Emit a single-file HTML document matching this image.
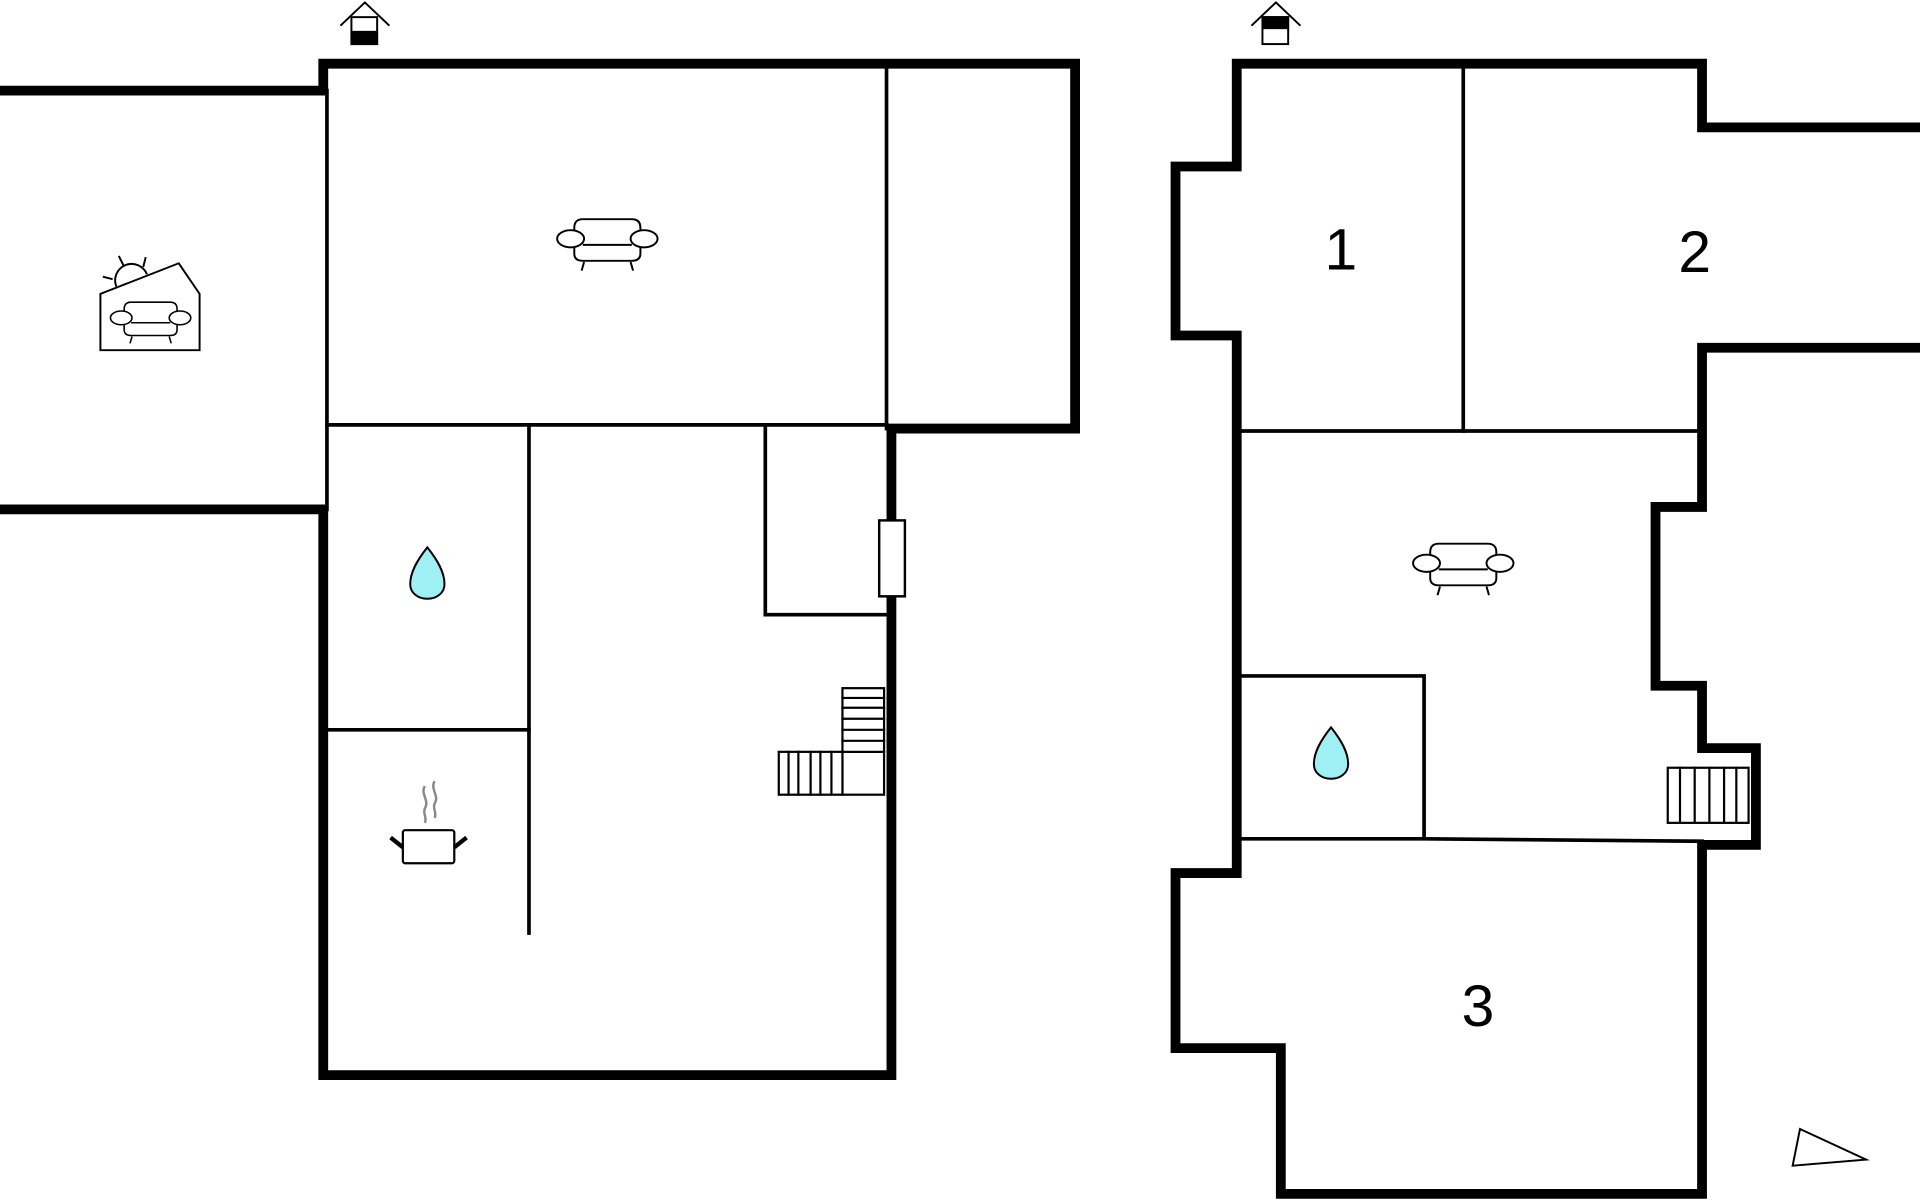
<!DOCTYPE html>
<html><head><meta charset="utf-8"><style>
html,body{margin:0;padding:0;background:#fff;width:1920px;height:1200px;overflow:hidden}
svg{display:block}
</style></head><body>
<svg width="1920" height="1200" viewBox="0 0 1568 980" xmlns="http://www.w3.org/2000/svg">
<defs>
<g id="sofa" fill="#fff" stroke="#000" stroke-width="1.6">
<path d="M-27,-4 L-27,-12 Q-27,-19 -20,-19 L20,-19 Q27,-19 27,-12 L27,-4"/>
<path d="M-27,2 L-27,9 Q-27,15 -20,15 L20,15 Q27,15 27,9 L27,2"/>
<line x1="-20" y1="2" x2="20" y2="2"/>
<ellipse cx="-30" cy="-3" rx="11" ry="7"/>
<ellipse cx="30" cy="-3" rx="11" ry="7"/>
<line x1="-19" y1="16" x2="-21" y2="23"/><line x1="19" y1="16" x2="21" y2="23"/>
</g>
<g id="drop"><path d="M0,-26 C8,-16 14,-6 14,4 C14,11 8,16 0,16 C-8,16 -14,11 -14,4 C-14,-6 -8,-16 0,-26 Z" fill="#9ff0f5" stroke="#000" stroke-width="1.6"/></g>
</defs>
<g fill="none" stroke="#000" stroke-linecap="square">
<path d="M0,74 L264,74 L264,52 L878,52 L878,350 L728,350 L728,878 L264,878 L264,416 L0,416" stroke-width="8"/>
<line x1="267" y1="74" x2="267" y2="416" stroke-width="3"/>
<line x1="724" y1="56" x2="724" y2="350" stroke-width="3"/>
<line x1="267" y1="347" x2="724" y2="347" stroke-width="3"/>
<line x1="432" y1="347" x2="432" y2="762" stroke-width="3"/>
<line x1="267" y1="596" x2="432" y2="596" stroke-width="3"/>
<path d="M625,347 L625,502 L724,502" stroke-width="3"/>
<rect x="718" y="425" width="21" height="62" fill="#fff" stroke-width="2"/>
<g stroke-width="1.8">
<rect x="688" y="562" width="34" height="87" fill="#fff"/>
<line x1="688" y1="570" x2="722" y2="570"/><line x1="688" y1="578" x2="722" y2="578"/>
<line x1="688" y1="587" x2="722" y2="587"/><line x1="688" y1="596" x2="722" y2="596"/>
<line x1="688" y1="605" x2="722" y2="605"/><line x1="688" y1="614" x2="722" y2="614"/>
<rect x="636" y="614" width="52" height="35" fill="#fff"/>
<line x1="644" y1="614" x2="644" y2="649"/><line x1="652" y1="614" x2="652" y2="649"/>
<line x1="662" y1="614" x2="662" y2="649"/><line x1="670" y1="614" x2="670" y2="649"/>
<line x1="679" y1="614" x2="679" y2="649"/>
</g>
<path d="M1568,284 L1390,284 L1390,414 L1352,414 L1352,560 L1390,560 L1390,611 L1434,611 L1434,690 L1390,690 L1390,975 L1046,975 L1046,856 L960,856 L960,713 L1010,713 L1010,274 L960,274 L960,136 L1010,136 L1010,52 L1390,52 L1390,104 L1568,104" stroke-width="8" stroke-linejoin="miter"/>
<line x1="1195" y1="56" x2="1195" y2="352" stroke-width="3"/>
<line x1="1014" y1="352" x2="1386" y2="352" stroke-width="3"/>
<path d="M1014,552 L1163,552 L1163,684" stroke-width="3"/>
<path d="M1014,685 L1163,685 L1390,687" stroke-width="3"/>
<g stroke-width="1.8">
<rect x="1362" y="627" width="66" height="45" fill="#fff"/>
<line x1="1372" y1="627" x2="1372" y2="672"/><line x1="1384" y1="627" x2="1384" y2="672"/>
<line x1="1396" y1="627" x2="1396" y2="672"/><line x1="1408" y1="627" x2="1408" y2="672"/>
<line x1="1418" y1="627" x2="1418" y2="672"/>
</g>
<path d="M1470,922 L1524,947 L1464,952 Z" stroke-width="1.6"/>
</g>
<g stroke="#000" stroke-width="1.6" fill="none">
<path d="M278,21 L298,2 L318,21"/>
<rect x="287" y="14" width="21" height="22" fill="#fff"/>
<rect x="287" y="26" width="21" height="10" fill="#000"/>
<path d="M1022,21 L1042,2 L1062,21"/>
<rect x="1031" y="14" width="21" height="22" fill="#fff"/>
<rect x="1031" y="14" width="21" height="9" fill="#000"/>
</g>
<g stroke="#000" stroke-width="1.6" fill="none">
<path d="M95,234 A13,13 0 0 1 120,224"/>
<line x1="97" y1="209" x2="101" y2="217"/><line x1="119" y1="210" x2="117" y2="218"/>
<line x1="84" y1="226" x2="92" y2="228"/>
<path d="M82,286 L82,240 L146,215 L163,240 L163,286 Z" fill="#fff"/>
</g>
<use href="#sofa" x="123" y="262" transform="translate(123 262) scale(0.8) translate(-123 -262)"/>
<use href="#sofa" x="496" y="198"/>
<use href="#sofa" x="1195" y="463"/>
<use href="#drop" x="349" y="473"/>
<use href="#drop" x="1087" y="620"/>
<g stroke="#888" stroke-width="2" fill="none">
<path d="M347,642 C343,648 351,654 347,660 C345,664 349,668 347,672"/>
<path d="M355,638 C351,644 359,650 355,656 C353,660 357,664 355,668"/>
</g>
<g stroke="#000" stroke-width="1.8" fill="#fff">
<rect x="329" y="678" width="42" height="27" rx="2"/>
<line x1="319" y1="684" x2="329" y2="692" stroke-width="3.5"/>
<line x1="381" y1="684" x2="371" y2="692" stroke-width="3.5"/>
</g>
<g font-family="Liberation Sans, sans-serif" font-size="48" text-anchor="middle" fill="#000">
<text x="1095" y="220">1</text>
<text x="1384" y="222">2</text>
<text x="1207" y="838">3</text>
</g>
</svg>
</body></html>
